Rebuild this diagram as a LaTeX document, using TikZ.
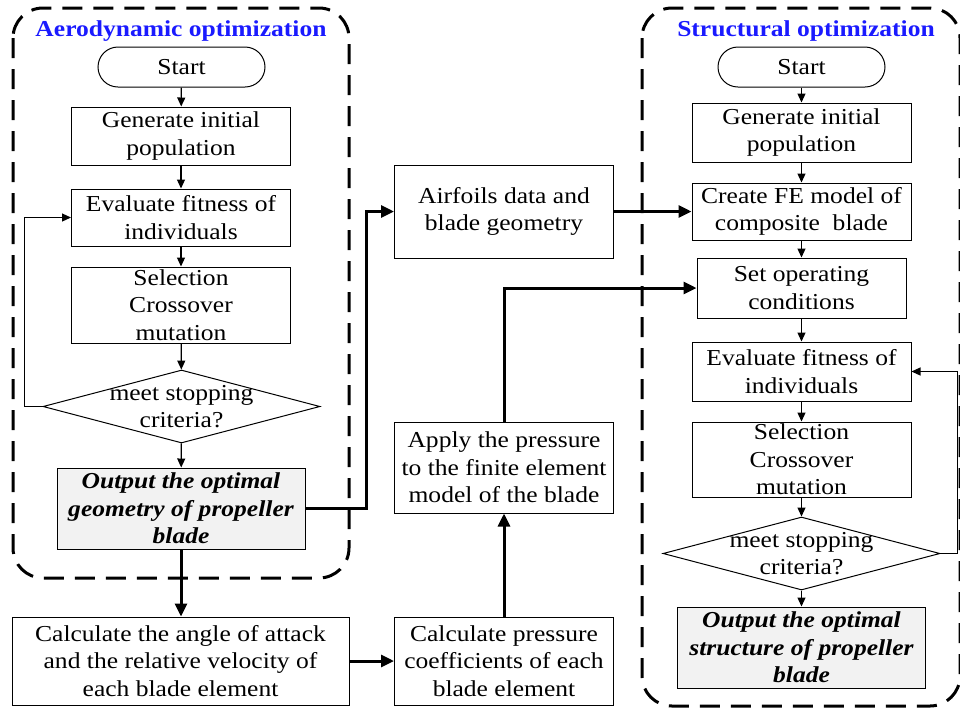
\documentclass[tikz,border=0pt]{standalone}
\usepackage{fontspec}
\setmainfont{Liberation Serif}[FakeStretch=1.12]
\usetikzlibrary{arrows.meta}
\usetikzlibrary{shapes.geometric}
\definecolor{titleblue}{RGB}{26,26,255}
\definecolor{outgray}{RGB}{242,242,242}

\begin{document}
\begin{tikzpicture}[x = 0.5pt, y = -0.5pt, font = \fontsize{11.4}{13.75}\selectfont]
	\tikzstyle{boxStyle}=[draw, line width = 0.5pt, inner sep = 0pt, align = center, minimum width = 109.5pt]
	\tikzstyle{startStyle}=[draw, line width = 0.5pt, rounded corners = 10pt, minimum width = 83.5pt, minimum height = 20pt, inner sep = 0pt]
	\tikzstyle{diaStyle}=[draw, shape = diamond, line width = 0.5pt, inner sep = 0pt, minimum width = 138.5pt, minimum height = 36.5pt]
	\tikzstyle{outStyle}=[boxStyle, fill = outgray, minimum width = 124pt, minimum height = 40.5pt, font = \fontsize{11.4}{13.75}\selectfont\bfseries\itshape]
	\tikzstyle{titleStyle}=[text = titleblue, font = \fontsize{11.4}{13.75}\selectfont\bfseries, inner sep = 0pt]
	\tikzstyle{frameStyle}=[line width = 1.5pt, dash pattern = on 10pt off 5.5pt, rounded corners = 15pt]
	\tikzstyle{thinArrow}=[line width = 0.6pt, -{Triangle[length = 4.5pt, width = 4pt]}]
	\tikzstyle{thickArrow}=[line width = 1.5pt, -{Triangle[length = 6.5pt, width = 6pt]}]
	\useasboundingbox (0,0) rectangle (960,709);
	\draw[frameStyle] (13,8) rectangle (349,578);
	\draw[frameStyle] (642,8) rectangle (960,706);
	\node[titleStyle] (titleL) at (181,31) {Aerodynamic optimization};
	\node[titleStyle] (titleR) at (806,31) {Structural optimization};
	% aerodynamic loop
	\node[startStyle] (startL) at (181.5,67) {Start};
	\node[boxStyle, minimum height = 29pt] (genL) at (181,136) {Generate initial\\population};
	\node[boxStyle, minimum height = 28.5pt] (evalL) at (181,217.5) {Evaluate fitness of\\individuals};
	\node[boxStyle, minimum height = 38pt] (selL) at (181,305) {Selection\\Crossover\\mutation};
	\node[diaStyle, label = {[name = critL, align = center]center:meet stopping\\criteria?}] (diaL) at (181.5,406.5) {};
	\node[outStyle] (outL) at (181,508.5) {Output the optimal\\geometry of propeller\\blade};
	% structural loop
	\node[startStyle] (startR) at (801.5,67) {Start};
	\node[boxStyle, minimum height = 29.5pt] (genR) at (801.5,132.5) {Generate initial\\population};
	\node[boxStyle, minimum height = 28.5pt] (feR) at (801.5,211.5) {Create FE model of\\composite\ \ blade};
	\node[boxStyle, minimum width = 104.5pt, minimum height = 30pt] (setR) at (801.5,288) {Set operating\\conditions};
	\node[boxStyle, minimum height = 29.5pt] (evalR) at (801.5,371.5) {Evaluate fitness of\\individuals};
	\node[boxStyle, minimum height = 37.5pt] (selR) at (801.5,459.5) {Selection\\Crossover\\mutation};
	\node[diaStyle, label = {[name = critR, align = center]center:meet stopping\\criteria?}] (diaR) at (801.5,553.5) {};
	\node[outStyle] (outR) at (801.5,647.5) {Output the optimal\\structure of propeller\\blade};
	% coupling
	\node[boxStyle, minimum height = 46.5pt] (airfoil) at (504,211.5) {Airfoils data and\\blade geometry};
	\node[boxStyle, minimum height = 45.5pt] (apply) at (504,467.5) {Apply the pressure\\to the finite element\\model of the blade};
	\node[boxStyle, minimum height = 44pt] (press) at (504,661) {Calculate pressure\\coefficients of each\\blade element};
	\node[boxStyle, minimum width = 168.5pt, minimum height = 44pt] (angle) at (180.5,661) {Calculate the angle of attack\\and the relative velocity of\\each blade element};
	\draw[thinArrow] (startL) -- (genL);
	\draw[thinArrow] (genL) -- (evalL);
	\draw[thinArrow] (evalL) -- (selL);
	\draw[thinArrow] (selL) -- (diaL);
	\draw[thinArrow] (diaL) -- (outL);
	\draw[thinArrow] (diaL.west) -- ++(-18,0) |- (evalL.west);
	\draw[thinArrow] (startR) -- (genR);
	\draw[thinArrow] (genR) -- (feR);
	\draw[thinArrow] (feR) -- (setR);
	\draw[thinArrow] (setR) -- (evalR);
	\draw[thinArrow] (evalR) -- (selR);
	\draw[thinArrow] (selR) -- (diaR);
	\draw[thinArrow] (diaR) -- (outR);
	\draw[thinArrow] (diaR.east) -- ++(17,0) |- (evalR.east);
	\draw[thickArrow] (outL.south) -- (outL.south |- angle.north);
	\draw[thickArrow] (angle) -- (press);
	\draw[thickArrow] (press) -- (apply);
	\draw[thickArrow] (apply.north) |- (setR.west);
	\draw[thickArrow] (outL.east) -- ++(61,0) |- (airfoil.west);
	\draw[thickArrow] (airfoil) -- (feR);
\end{tikzpicture}
\end{document}
